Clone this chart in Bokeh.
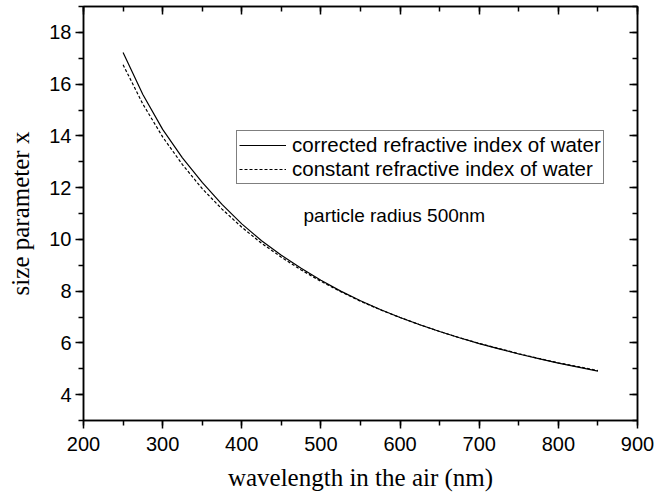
from bokeh.plotting import figure
from bokeh.models import (Range1d, LinearAxis, SingleIntervalTicker, Legend, LegendItem, Label)
from bokeh.embed import file_html
from bokeh.resources import INLINE

# wavelength in air (nm)
wavelength = [250, 275, 300, 325, 350, 375, 400, 425, 450, 475, 500, 525, 550, 575, 600,
              625, 650, 675, 700, 725, 750, 775, 800, 825, 850]
# size parameter with corrected refractive index of water
corrected = [17.22, 15.60, 14.25, 13.15, 12.20, 11.35, 10.60, 9.95, 9.39, 8.88, 8.42, 8.00,
             7.63, 7.29, 6.98, 6.70, 6.44, 6.20, 5.97, 5.77, 5.57, 5.39, 5.22, 5.06, 4.91]
# size parameter with constant refractive index of water
constant = [16.75, 15.23, 13.96, 12.89, 11.96, 11.17, 10.47, 9.85, 9.31, 8.82, 8.38, 7.98,
            7.61, 7.28, 6.98, 6.70, 6.44, 6.20, 5.98, 5.78, 5.58, 5.40, 5.23, 5.08, 4.93]

legend_labels = ["corrected refractive index of water", "constant refractive index of water"]
annotation_text = "particle radius 500nm"
x_label = "wavelength in the air (nm)"
y_label = "size parameter x"

SANS = "Liberation Sans"
SERIF = "Liberation Serif"

p = figure(width=668, height=495, output_backend="svg", toolbar_location=None,
           x_range=Range1d(200, 900), y_range=Range1d(3, 19),
           min_border_left=83, min_border_right=31, min_border_top=6, min_border_bottom=75)
p.background_fill_color = "white"
p.border_fill_color = "white"
p.grid.visible = False
p.outline_line_color = "black"
p.outline_line_width = 1.5


def style_axis(ax, ticker, inward, labels):
    ax.ticker = ticker
    ax.axis_line_color = "black"
    ax.axis_line_width = 1.5
    ax.major_tick_line_color = "black"
    ax.major_tick_line_width = 1.5
    ax.minor_tick_line_color = "black"
    ax.minor_tick_line_width = 1.5
    if inward:
        ax.major_tick_in = 8
        ax.major_tick_out = 0
        ax.minor_tick_in = 5
        ax.minor_tick_out = 0
    else:
        ax.major_tick_in = 0
        ax.major_tick_out = 8
        ax.minor_tick_in = 0
        ax.minor_tick_out = 5
    if labels:
        ax.major_label_text_font = SANS
        ax.major_label_text_font_size = "20px"
        ax.major_label_text_color = "black"
        ax.major_label_standoff = 8
    else:
        ax.major_label_text_color = None
        ax.major_label_text_font_size = "10px"
        ax.major_label_standoff = 0


style_axis(p.xaxis[0], SingleIntervalTicker(interval=100, num_minor_ticks=2), False, True)
style_axis(p.yaxis[0], SingleIntervalTicker(interval=2, num_minor_ticks=2), False, True)
p.yaxis[0].major_label_standoff = 4

for ax, lab in ((p.xaxis[0], x_label), (p.yaxis[0], y_label)):
    ax.axis_label = lab
    ax.axis_label_text_font = SERIF
    ax.axis_label_text_font_size = "25px"
    ax.axis_label_text_font_style = "normal"
    ax.axis_label_text_color = "black"
p.xaxis[0].axis_label_standoff = 10
p.yaxis[0].axis_label_standoff = 12

top = LinearAxis()
right = LinearAxis()
style_axis(top, SingleIntervalTicker(interval=100, num_minor_ticks=2), True, False)
style_axis(right, SingleIntervalTicker(interval=2, num_minor_ticks=2), True, False)
p.add_layout(top, "above")
p.add_layout(right, "right")

r1 = p.line(wavelength, corrected, line_color="black", line_width=1.2)
r2 = p.line(wavelength, constant, line_color="black", line_width=1.2, line_dash="3 2")

legend = Legend(items=[LegendItem(label=legend_labels[0], renderers=[r1]),
                       LegendItem(label=legend_labels[1], renderers=[r2])],
                location=(153, 236))
legend.label_text_font = SANS
legend.label_text_font_size = "20.5px"
legend.label_text_color = "black"
legend.border_line_color = "black"
legend.border_line_width = 1.2
legend.background_fill_alpha = 1
legend.glyph_width = 47
legend.glyph_height = 22
legend.label_height = 22
legend.label_standoff = 6
legend.padding = 2
legend.spacing = 0
legend.margin = 0
p.add_layout(legend, "center")

p.add_layout(Label(x=478, y=10.92, text=annotation_text, text_font=SANS,
                   text_font_size="19px", text_color="black", text_baseline="middle"))

open("out.html", "w").write(file_html(p, INLINE))
